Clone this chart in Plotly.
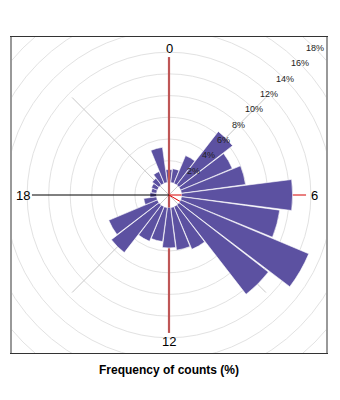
import math
import plotly.graph_objects as go

# ---- data ----
hours = list(range(24))
freq_pct = [1.2, 1.3, 2.8, 6.3, 5.2, 6.0, 10.3, 9.2, 12.9, 10.5, 4.3, 4.0,
            3.75, 3.2, 3.5, 5.6, 4.9, 1.2, 0.6, 0.5, 0.6, 0.8, 1.2, 3.3]
hour_ticks = [0, 6, 12, 18]
hour_tick_labels = ["0", "6", "12", "18"]
ring_values = [2, 4, 6, 8, 10, 12, 14, 16, 18]
ring_labels = [f"{v}%" for v in ring_values]

# ---- geometry / style ----
HOLE = 0.08
RMAX = 13.4
OFF = HOLE * RMAX / (1 - HOLE)      # hole radius in percent units
RU = RMAX / (1 - HOLE)              # cartesian half-range
AX_LEN = 11.55
LAB_R = 12.35
BAR = "#5C51A1"

theta = [h * 15 for h in hours]

fig = go.Figure()
# dummy cartesian trace so the framed cartesian subplot exists
fig.add_trace(go.Scatter(x=[None], y=[None], showlegend=False, hoverinfo="skip"))
fig.add_trace(go.Barpolar(r=freq_pct, theta=theta, width=[14.4] * 24,
                          marker=dict(color=BAR, line=dict(color="white", width=0.6)),
                          showlegend=False, hoverinfo="skip"))

shapes = []
for v in ring_values:
    rr = OFF + v
    shapes.append(dict(type="circle", xref="x", yref="y", x0=-rr, x1=rr, y0=-rr, y1=rr,
                       line=dict(color="#E2E2E2", width=1), layer="below"))
L = OFF + AX_LEN
for ang in [45, 135, 225, 315]:
    a = math.radians(ang)
    shapes.append(dict(type="line", xref="x", yref="y", x0=0, y0=0,
                       x1=L * math.sin(a), y1=L * math.cos(a),
                       line=dict(color="#C8C8C8", width=1), layer="below"))
shapes.append(dict(type="line", xref="x", yref="y", x0=0, y0=0, x1=0, y1=-L,
                   line=dict(color="#BF5656", width=2.2), layer="below"))
shapes.append(dict(type="line", xref="x", yref="y", x0=0, y0=0, x1=0, y1=L,
                   line=dict(color="#BF5656", width=2.2), layer="above"))
shapes.append(dict(type="line", xref="x", yref="y", x0=0, y0=0, x1=L, y1=0,
                   line=dict(color="#D40000", width=1), layer="below"))
shapes.append(dict(type="line", xref="x", yref="y", x0=-L, y0=0, x1=0, y1=0,
                   line=dict(color="black", width=1), layer="above"))
imax = max(range(24), key=lambda i: freq_pct[i])
a = math.radians(theta[imax])
shapes.append(dict(type="line", xref="x", yref="y", x0=0, y0=0,
                   x1=OFF * math.sin(a), y1=OFF * math.cos(a),
                   line=dict(color="#E00000", width=1), layer="above"))

annotations = []
for h, t in zip(hour_ticks, hour_tick_labels):
    a = math.radians(h * 15)
    rr = OFF + LAB_R
    annotations.append(dict(x=rr * math.sin(a), y=rr * math.cos(a), xref="x", yref="y",
                            text=t, showarrow=False,
                            font=dict(family="Liberation Sans, Arial", size=13, color="black")))
for v, t in zip(ring_values, ring_labels):
    rr = (OFF + v) / math.sqrt(2)
    annotations.append(dict(x=rr, y=rr, xref="x", yref="y", text=t, showarrow=False,
                            font=dict(family="Liberation Sans, Arial", size=9, color="#222")))
annotations.append(dict(x=0.5, y=370, xref="paper", yref="paper", text="<b>Frequency of counts (%)</b>",
                        showarrow=False,
                        font=dict(family="Liberation Sans, Arial", size=12, color="black")))

fig.update_layout(
    width=340, height=400,
    margin=dict(l=12, r=12, t=37, b=47),
    paper_bgcolor="white", plot_bgcolor="white",
    xaxis=dict(range=[-RU, RU], showgrid=False, zeroline=False, showticklabels=False,
               ticks="", showline=True, mirror=True, linecolor="#333", linewidth=1,
               fixedrange=True),
    yaxis=dict(range=[-RU, RU], showgrid=False, zeroline=False, showticklabels=False,
               ticks="", showline=True, mirror=True, linecolor="#999", linewidth=2,
               fixedrange=True),
    polar=dict(domain=dict(x=[0, 1], y=[0, 1]), hole=HOLE, bgcolor="rgba(0,0,0,0)",
               radialaxis=dict(range=[0, RMAX], visible=False, showgrid=False),
               angularaxis=dict(rotation=90, direction="clockwise", visible=False,
                                showgrid=False)),
    shapes=shapes, annotations=annotations, showlegend=False,
)
# title position in pixels -> paper coords
fig.layout.annotations[-1].y = (400 - 47 - 370) / 316.0
fig.layout.annotations[-1].yanchor = "middle"

fig.write_html("out.html")
